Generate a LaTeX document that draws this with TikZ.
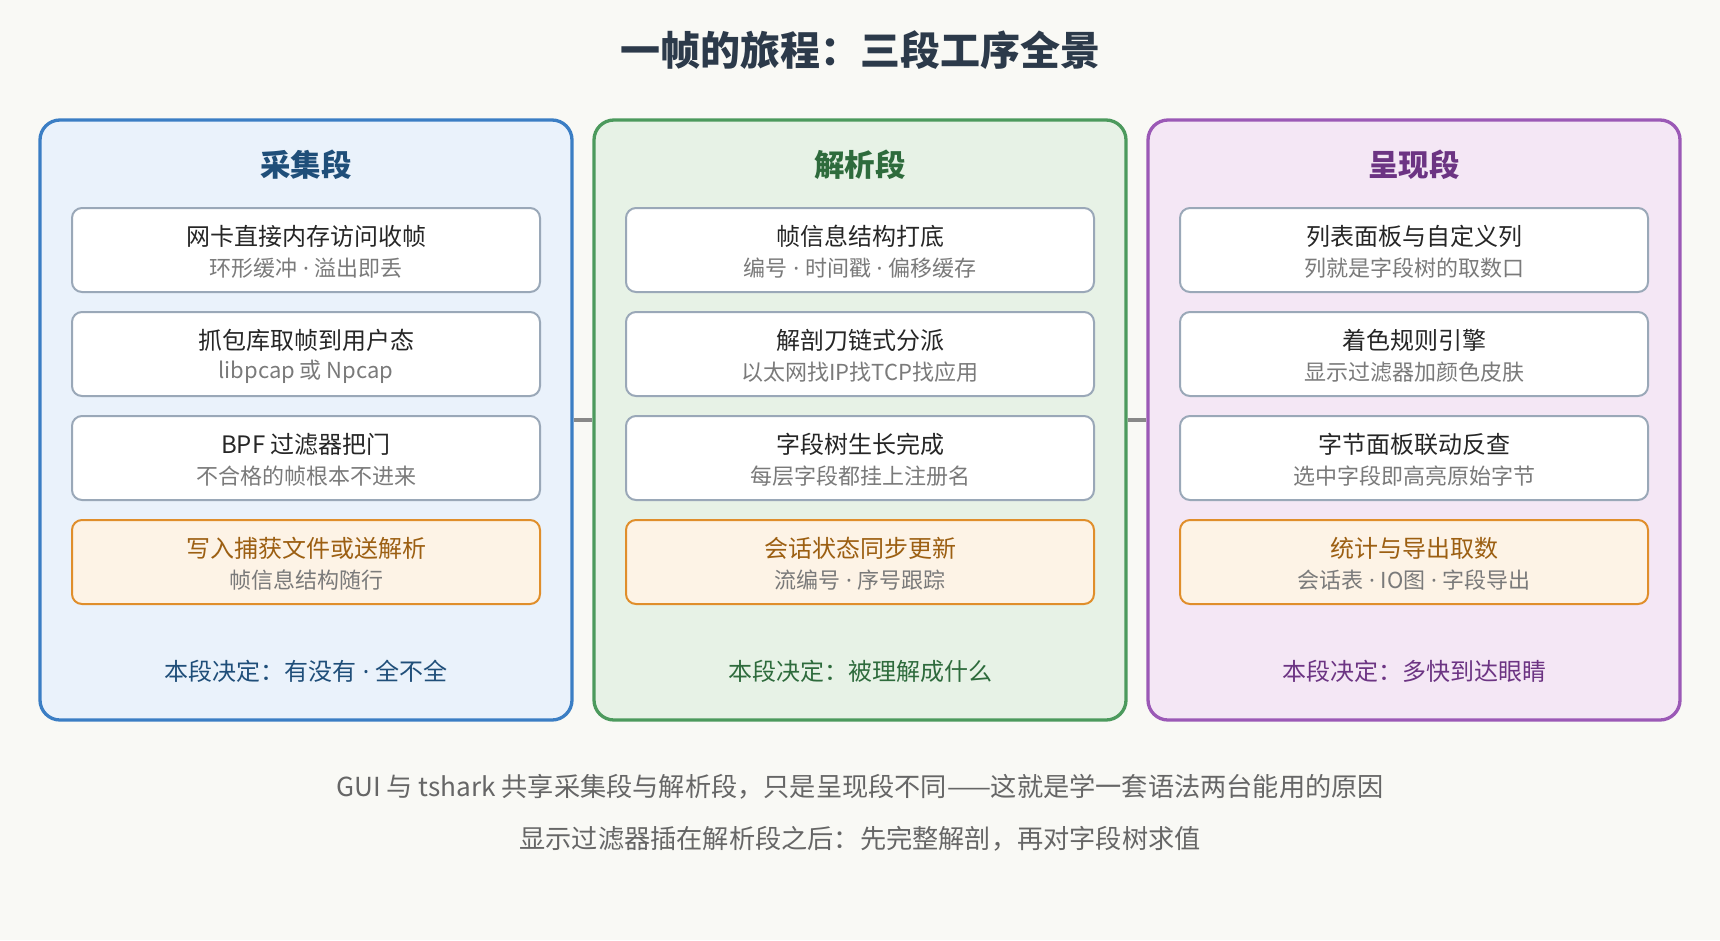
\documentclass[tikz,border=0pt]{standalone}
\usepackage{fontspec}
\setmainfont{Noto Sans CJK SC}
\newfontfamily\latinf{Noto Sans}
\newcommand\mdt{{\latinf\ ·\ }}
\definecolor{bgc}{HTML}{F9F9F5}
\definecolor{titlec}{HTML}{2C3A4A}
\definecolor{blueB}{HTML}{3B7EC4}
\definecolor{blueF}{HTML}{EAF2FB}
\definecolor{blueT}{HTML}{1F4E79}
\definecolor{greenB}{HTML}{4C9A5D}
\definecolor{greenF}{HTML}{E7F2E6}
\definecolor{greenT}{HTML}{2E6B3C}
\definecolor{purpB}{HTML}{9B59B6}
\definecolor{purpF}{HTML}{F4E7F5}
\definecolor{purpT}{HTML}{6C3483}
\definecolor{boxB}{HTML}{9AA8B8}
\definecolor{orB}{HTML}{E08E2B}
\definecolor{orF}{HTML}{FDF3E6}
\definecolor{orT}{HTML}{9C5F12}
\definecolor{mainT}{HTML}{262626}
\definecolor{subT}{HTML}{7A7A7A}
\definecolor{footT}{HTML}{666666}
\definecolor{connC}{HTML}{888888}
\tikzset{
  panel/.style={rectangle, rounded corners=20pt, line width=3.3pt, minimum width=532pt, minimum height=600pt, inner sep=0pt},
  stepbox/.style={rectangle, rounded corners=10pt, line width=2pt, draw=boxB, fill=white, minimum width=468pt, minimum height=84pt, inner sep=0pt},
  endbox/.style={stepbox, draw=orB, fill=orF},
  maintxt/.style={text=mainT, font=\fontsize{24}{28}\selectfont, inner sep=0pt},
  endtxt/.style={maintxt, text=orT},
  subtxt/.style={text=subT, font=\fontsize{22}{26}\selectfont, inner sep=0pt},
  ptitle/.style={font=\bfseries\fontsize{30.5}{35}\selectfont, inner sep=0pt},
  pfoot/.style={font=\fontsize{24}{28}\selectfont, inner sep=0pt},
  foot/.style={text=footT, font=\fontsize{26.2}{31}\selectfont, inner sep=0pt},
  conn/.style={draw=connC, line width=4pt},
}
\begin{document}
\begin{tikzpicture}[x=1pt,y=-1pt]
\useasboundingbox (0,0) rectangle (1720,940);
\fill[bgc] (0,0) rectangle (1720,940);
\node[text=titlec, font=\bfseries\fontsize{40}{46}\selectfont, inner sep=0pt] (title) at (860,50) {一帧的旅程：三段工序全景};
% panels
\node[panel, draw=blueB, fill=blueF] (p1) at (306,420) {};
\node[panel, draw=greenB, fill=greenF] (p2) at (860,420) {};
\node[panel, draw=purpB, fill=purpF] (p3) at (1414,420) {};
\draw[conn] (p1.east) -- (p2.west);
\draw[conn] (p2.east) -- (p3.west);
% panel titles
\node[ptitle, text=blueT] (t1) at (306,165) {采集段};
\node[ptitle, text=greenT] (t2) at (860,165) {解析段};
\node[ptitle, text=purpT] (t3) at (1414,165) {呈现段};
% column 1
\node[stepbox] (a1) at (306,250) {};
\node[maintxt] (a1m) at ([yshift=14pt]a1.center) {网卡直接内存访问收帧};
\node[subtxt] (a1s) at ([yshift=-18pt]a1.center) {环形缓冲\mdt 溢出即丢};
\node[stepbox] (a2) at (306,354) {};
\node[maintxt] (a2m) at ([yshift=14pt]a2.center) {抓包库取帧到用户态};
\node[subtxt] (a2s) at ([yshift=-18pt]a2.center) {libpcap 或 Npcap};
\node[stepbox] (a3) at (306,458) {};
\node[maintxt] (a3m) at ([yshift=14pt]a3.center) {BPF 过滤器把门};
\node[subtxt] (a3s) at ([yshift=-18pt]a3.center) {不合格的帧根本不进来};
\node[endbox] (a4) at (306,562) {};
\node[endtxt] (a4m) at ([yshift=14pt]a4.center) {写入捕获文件或送解析};
\node[subtxt] (a4s) at ([yshift=-18pt]a4.center) {帧信息结构随行};
\node[pfoot, text=blueT] (f1) at (306,671) {本段决定：有没有\mdt 全不全};
% column 2
\node[stepbox] (b1) at (860,250) {};
\node[maintxt] (b1m) at ([yshift=14pt]b1.center) {帧信息结构打底};
\node[subtxt] (b1s) at ([yshift=-18pt]b1.center) {编号\mdt 时间戳\mdt 偏移缓存};
\node[stepbox] (b2) at (860,354) {};
\node[maintxt] (b2m) at ([yshift=14pt]b2.center) {解剖刀链式分派};
\node[subtxt] (b2s) at ([yshift=-18pt]b2.center) {以太网找IP找TCP找应用};
\node[stepbox] (b3) at (860,458) {};
\node[maintxt] (b3m) at ([yshift=14pt]b3.center) {字段树生长完成};
\node[subtxt] (b3s) at ([yshift=-18pt]b3.center) {每层字段都挂上注册名};
\node[endbox] (b4) at (860,562) {};
\node[endtxt] (b4m) at ([yshift=14pt]b4.center) {会话状态同步更新};
\node[subtxt] (b4s) at ([yshift=-18pt]b4.center) {流编号\mdt 序号跟踪};
\node[pfoot, text=greenT] (f2) at (860,671) {本段决定：被理解成什么};
% column 3
\node[stepbox] (c1) at (1414,250) {};
\node[maintxt] (c1m) at ([yshift=14pt]c1.center) {列表面板与自定义列};
\node[subtxt] (c1s) at ([yshift=-18pt]c1.center) {列就是字段树的取数口};
\node[stepbox] (c2) at (1414,354) {};
\node[maintxt] (c2m) at ([yshift=14pt]c2.center) {着色规则引擎};
\node[subtxt] (c2s) at ([yshift=-18pt]c2.center) {显示过滤器加颜色皮肤};
\node[stepbox] (c3) at (1414,458) {};
\node[maintxt] (c3m) at ([yshift=14pt]c3.center) {字节面板联动反查};
\node[subtxt] (c3s) at ([yshift=-18pt]c3.center) {选中字段即高亮原始字节};
\node[endbox] (c4) at (1414,562) {};
\node[endtxt] (c4m) at ([yshift=14pt]c4.center) {统计与导出取数};
\node[subtxt] (c4s) at ([yshift=-18pt]c4.center) {会话表\mdt IO图\mdt 字段导出};
\node[pfoot, text=purpT] (f3) at (1414,671) {本段决定：多快到达眼睛};
% footer
\node[foot] (n1) at (860,787) {GUI 与 tshark 共享采集段与解析段，只是呈现段不同——这就是学一套语法两台能用的原因};
\node[foot] (n2) at (860,839) {显示过滤器插在解析段之后：先完整解剖，再对字段树求值};
\end{tikzpicture}
\end{document}
